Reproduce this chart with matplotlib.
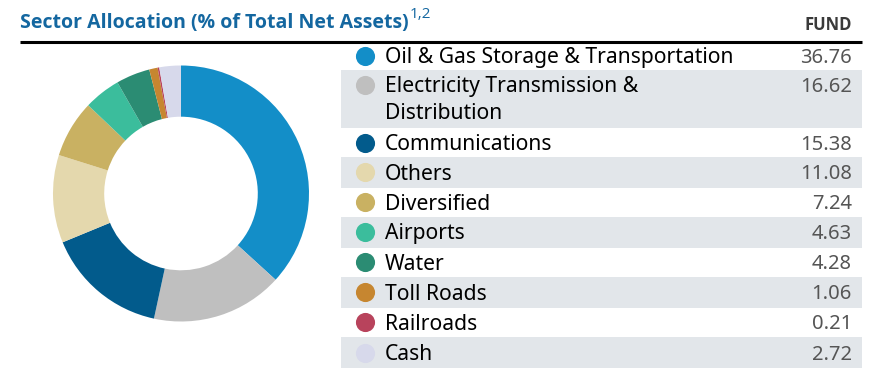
import numpy as np
import matplotlib
matplotlib.use("Agg")
import matplotlib.pyplot as plt

# sector allocation data (% of total net assets)
sectors = ["Oil & Gas Storage & Transportation", "Electricity Transmission &\nDistribution",
           "Communications", "Others", "Diversified", "Airports", "Water",
           "Toll Roads", "Railroads", "Cash"]
fund = [36.76, 16.62, 15.38, 11.08, 7.24, 4.63, 4.28, 1.06, 0.21, 2.72]
fund_labels = ["36.76", "16.62", "15.38", "11.08", "7.24", "4.63", "4.28", "1.06", "0.21", "2.72"]
colors = ["#138ec8", "#bfbfbf", "#025b8c", "#e4d8ad", "#c9b162", "#3bbd9c",
          "#2b8c73", "#c68630", "#b8435c", "#d7d9eb"]

W, H = 874, 368
plt.rcParams['font.family'] = ['Noto Sans', 'DejaVu Sans']
fig = plt.figure(figsize=(W / 100, H / 100), dpi=100)

# overlay axes in pixel coordinates for the table part
ax_t = fig.add_axes([0, 0, 1, 1])
ax_t.set_xlim(0, W)
ax_t.set_ylim(H, 0)
ax_t.axis("off")

# donut
cx, cy, R = 181, 193.5, 128
pad = 4
ax_p = fig.add_axes([(cx - R - pad) / W, (H - cy - R - pad) / H,
                     2 * (R + pad) / W, 2 * (R + pad) / H])
ax_p.pie(fund, colors=colors, startangle=90, counterclock=False, radius=1,
         wedgeprops=dict(width=0.4, linewidth=0))
lim = (R + pad) / R
ax_p.set_xlim(-lim, lim)
ax_p.set_ylim(-lim, lim)
ax_p.set_aspect("equal")
ax_p.axis("off")

# title
bold_font = ['Open Sans', 'DejaVu Sans']
title_color = "#1467a0"
t = ax_t.text(20, 23, "Sector Allocation (% of Total Net Assets)", fontsize=14,
              fontweight="bold", family=bold_font, color=title_color,
              va="center", ha="left")
fig.canvas.draw()
bb = t.get_window_extent()
ax_t.text(bb.x1 + 1, 14, "1,2", fontsize=11, family=bold_font, color=title_color,
          va="center", ha="left")
ax_t.text(852, 25, "FUND", fontsize=12, fontweight="bold", family=bold_font,
          color="#3a3a3a", va="center", ha="right")
ax_t.plot([20, 862], [41.5, 41.5], color="black", lw=2.2, solid_capstyle="butt")

# table rows
edges = [42, 70, 128, 157, 187.5, 216.5, 247.5, 276.5, 307.5, 337, 368]
for i, (name, val, c) in enumerate(zip(sectors, fund_labels, colors)):
    y0, y1 = edges[i], edges[i + 1]
    if i % 2 == 1:
        ax_t.fill_between([341, 862], y0, y1, color="#e2e6ea", lw=0)
    yc = y0 + 14.5 if "\n" in name else (y0 + y1) / 2
    ax_t.scatter([365], [yc], s=190, color=c, lw=0, zorder=3)
    ax_t.text(385, yc + 2, name.split("\n")[0], fontsize=15.2, color="black",
              va="center", ha="left")
    if "\n" in name:
        ax_t.text(385, yc + 29, name.split("\n")[1], fontsize=15.2, color="black",
                  va="center", ha="left")
    ax_t.text(852, yc + 2, val, fontsize=14.5, color="#555555",
              va="center", ha="right")

fig.savefig("out.png", dpi=100)
